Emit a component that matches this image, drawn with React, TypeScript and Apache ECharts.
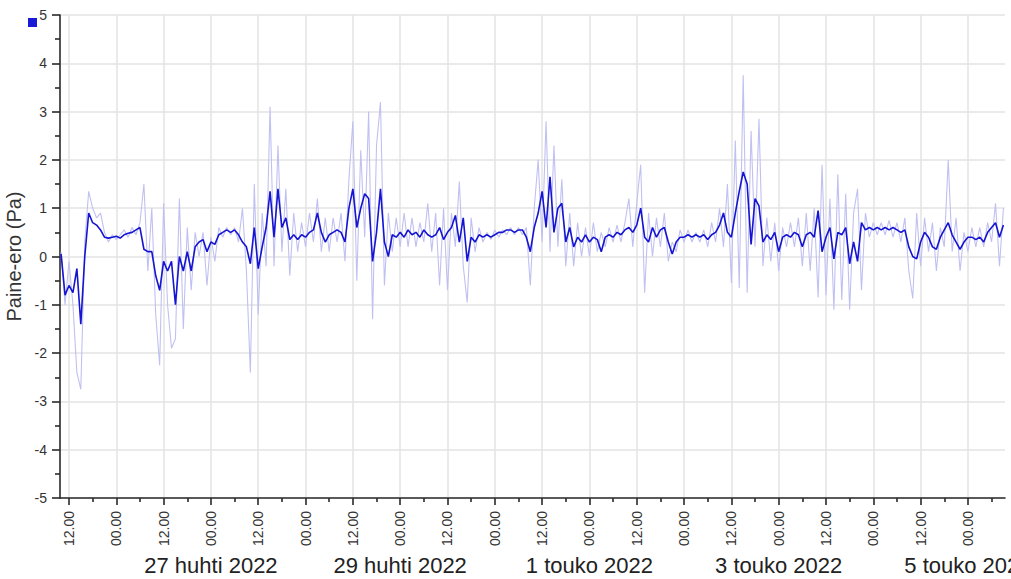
import React, { useEffect, useRef } from "react";
import * as echarts from "echarts";

// Hours are counted from 25 Apr 2022 00:00; data starts at 10:00 with hourly samples
const startHour = 10;
const axisMinHour = 9.72;
const axisMaxHour = 249.4;

const darkValues = [
  0.05, -0.8, -0.6, -0.75, -0.25, -1.4, 0.0, 0.9, 0.7, 0.65,
  0.55, 0.4, 0.38, 0.4, 0.42, 0.38, 0.45, 0.48, 0.5, 0.55,
  0.6, 0.15, 0.1, 0.1, -0.4, -0.7, -0.1, -0.3, -0.1, -1.0,
  0.0, -0.3, 0.1, -0.3, 0.2, 0.3, 0.35, 0.1, 0.3, 0.25,
  0.45, 0.5, 0.55, 0.5, 0.55, 0.45, 0.3, 0.2, -0.15, 0.6,
  -0.25, 0.2, 0.6, 1.35, 0.4, 1.4, 0.6, 0.8, 0.35, 0.45,
  0.35, 0.45, 0.4, 0.5, 0.55, 0.9, 0.5, 0.3, 0.45, 0.5,
  0.55, 0.5, 0.3, 1.0, 1.4, 0.6, 1.0, 1.3, 1.2, -0.1,
  0.5, 1.4, 0.3, 0.0, 0.45, 0.4, 0.5, 0.4, 0.55, 0.45,
  0.5, 0.4, 0.55, 0.45, 0.4, 0.45, 0.6, 0.35, 0.5, 0.6,
  0.85, 0.3, 0.8, -0.1, 0.4, 0.3, 0.45, 0.4, 0.45, 0.4,
  0.45, 0.5, 0.5, 0.55, 0.55, 0.5, 0.55, 0.55, 0.4, 0.1,
  0.6, 0.9, 1.35, 0.6, 1.65, 0.5, 1.0, 1.1, 0.3, 0.6,
  0.2, 0.4, 0.3, 0.45, 0.3, 0.4, 0.35, 0.1, 0.4, 0.45,
  0.4, 0.5, 0.45, 0.55, 0.6, 0.5, 0.65, 1.0, 0.4, 0.3,
  0.6, 0.4, 0.55, 0.6, 0.3, 0.05, 0.3, 0.4, 0.4, 0.45,
  0.4, 0.45, 0.4, 0.45, 0.35, 0.45, 0.5, 0.65, 0.9, 0.5,
  0.4, 0.9, 1.35, 1.75, 1.5, 0.25, 1.2, 1.05, 0.3, 0.45,
  0.35, 0.5, 0.1, 0.4, 0.45, 0.4, 0.5, 0.45, 0.2, 0.45,
  0.5, 0.4, 0.95, 0.1, 0.4, 0.6, -0.05, 0.5, 0.45, 0.6,
  -0.15, 0.3, -0.1, 0.7, 0.55, 0.6, 0.55, 0.6, 0.55, 0.6,
  0.55, 0.6, 0.55, 0.5, 0.55, 0.2, 0.0, -0.05, 0.3, 0.5,
  0.4, 0.2, 0.15, 0.4, 0.55, 0.7, 0.45, 0.3, 0.15, 0.3,
  0.4, 0.4, 0.35, 0.4, 0.3, 0.5, 0.6, 0.7, 0.4, 0.65,
];

const lightValues = [
  0.1, -1.0, -0.1, -1.0, -2.4, -2.75, 0.3, 1.35, 1.0, 0.8,
  0.9, 0.5, 0.3, 0.45, 0.35, 0.45, 0.55, 0.4, 0.6, 0.45,
  0.7, 1.5, -0.3, 1.0, -1.2, -2.25, 1.1, -1.0, -1.9, -1.7,
  1.2, -1.5, 0.6, -0.7, 0.5, 0.0, 0.5, -0.6, 0.4, -0.1,
  0.6, 0.4, 0.6, 0.45, 0.6, 0.3, 1.0, -0.3, -2.4, 1.5,
  -1.2, 0.9, -0.2, 3.1, -0.2, 2.3, 0.1, 1.4, -0.4, 0.9,
  0.1, 0.7, 0.2, 0.9, 0.3, 1.2, 0.1, 0.8, 0.1, 0.8,
  0.3, 0.9, -0.1, 1.6, 2.8, -0.5, 2.2, 0.4, 3.0, -1.3,
  2.3, 3.2, -0.6, 0.9, 0.1, 0.8, 0.2, 0.9, 0.2, 0.8,
  0.2, 0.7, 0.3, 1.1, 0.1, 0.9, -0.6, 1.0, -0.7, 0.9,
  0.2, 1.55, -0.2, -0.95, 0.8, 0.1, 0.6, 0.3, 0.5, 0.35,
  0.55, 0.4, 0.55, 0.45, 0.6, 0.45, 0.6, 0.45, 0.6, -0.6,
  1.0, 2.0, 0.3, 2.8, 0.1, 2.3, 0.2, 1.6, -0.2, 0.9,
  -0.2, 0.7, 0.0, 0.6, 0.0, 0.7, 0.1, 0.5, 0.2, 0.6,
  0.3, 0.65, 0.3, 0.7, 1.2, 0.2, 1.1, 1.9, -0.75, 0.9,
  0.0, 0.8, 0.2, 0.9, -0.1, 0.3, 0.1, 0.55, 0.3, 0.55,
  0.3, 0.5, 0.3, 0.55, 0.2, 0.7, 0.3, 1.0, 0.2, 1.5,
  -0.55, 2.4, -0.65, 3.75, -0.75, 2.6, 0.2, 2.85, -0.2, 0.8,
  -0.1, 0.7, -0.3, 0.6, 0.2, 0.7, 0.2, 0.8, -0.2, 0.9,
  -0.3, 1.0, -0.85, 1.9, -0.8, 1.2, -1.1, 1.7, -0.9, 1.3,
  -1.1, 0.9, 1.4, -0.7, 0.9, 0.4, 0.7, 0.45, 0.7, 0.45,
  0.75, 0.4, 0.7, 0.3, 0.8, -0.3, -0.87, 0.9, -0.2, 0.8,
  0.1, 0.7, -0.3, 0.6, 0.2, 2.0, 0.1, 0.8, -0.3, 0.5,
  0.1, 0.6, 0.2, 0.6, 0.2, 0.7, 0.3, 1.1, -0.2, 1.0,
];

const dateLabelHours = [48, 96, 144, 192, 240];
const dateLabels = ["27 huhti 2022", "29 huhti 2022", "1 touko 2022", "3 touko 2022", "5 touko 2022"];
const yTickValues = [-5, -4, -3, -2, -1, 0, 1, 2, 3, 4, 5];

const majorTickHours: number[] = [];
for (let h = 12; h <= 240; h += 12) majorTickHours.push(h);
const minorTickHours: number[] = [];
for (let h = 18; h <= 246; h += 12) minorTickHours.push(h);

const FONT = "Liberation Sans, Arial, sans-serif";
const AXIS_COLOR = "#2a2a2a";
const GRID_COLOR = "#e3e3e3";

export default function App() {
  const ref = useRef<HTMLDivElement>(null);
  useEffect(() => {
    if (!ref.current) return;
    const chart = echarts.init(ref.current, null, { renderer: "svg" });
    const darkData = darkValues.map((v, i) => [startHour + i, v]);
    const lightData = lightValues.map((v, i) => [startHour + i, v]);
    const baseX = {
      type: "value" as const,
      min: axisMinHour,
      max: axisMaxHour,
      position: "bottom" as const,
    };
    chart.setOption({
      animation: false,
      backgroundColor: "#ffffff",
      textStyle: { fontFamily: FONT },
      legend: {
        show: true,
        left: 23,
        top: 13,
        itemWidth: 9,
        itemHeight: 9,
        icon: "rect",
        itemGap: 0,
        formatter: () => "",
        data: [{ name: "Paine-ero", itemStyle: { color: "#1a1ad6" } }],
        textStyle: { fontSize: 1 },
      },
      grid: {
        left: 60,
        right: 6,
        top: 15,
        bottom: 81,
        containLabel: false,
        outerBoundsMode: "none",
      },
      xAxis: [
        {
          ...baseX,
          axisLine: { show: true, onZero: false, lineStyle: { color: AXIS_COLOR, width: 1.6 } },
          axisTick: {
            show: true,
            length: 7,
            customValues: majorTickHours,
            lineStyle: { color: AXIS_COLOR, width: 1.6 },
          },
          axisLabel: {
            show: true,
            customValues: majorTickHours,
            rotate: 90,
            margin: 13,
            fontSize: 14,
            color: "#333333",
            fontFamily: FONT,
            formatter: (v: number) => (Math.round(v) % 24 === 0 ? "00.00" : "12.00"),
          },
          splitLine: { show: true, lineStyle: { color: GRID_COLOR, width: 1.5 } },
        },
        {
          ...baseX,
          axisLine: { show: false, onZero: false },
          axisTick: {
            show: true,
            length: 4,
            customValues: minorTickHours,
            lineStyle: { color: AXIS_COLOR, width: 1.6 },
          },
          axisLabel: { show: false },
          splitLine: { show: false },
        },
        {
          ...baseX,
          axisLine: { show: false, onZero: false },
          axisTick: { show: false },
          axisLabel: {
            show: true,
            customValues: dateLabelHours,
            margin: 56,
            fontSize: 22,
            color: "#222222",
            fontFamily: FONT,
            formatter: (v: number) => {
              const idx = dateLabelHours.indexOf(Math.round(v));
              return idx >= 0 ? dateLabels[idx] : "";
            },
          },
          splitLine: { show: false },
        },
      ],
      yAxis: {
        type: "value",
        min: -5,
        max: 5,
        interval: 1,
        name: "Paine-ero (Pa)",
        nameLocation: "middle",
        nameGap: 33,
        nameRotate: 90,
        nameTextStyle: { fontSize: 20, color: "#333333", fontFamily: FONT },
        axisLine: { show: true, onZero: false, lineStyle: { color: AXIS_COLOR, width: 1.6 } },
        axisTick: { show: true, length: 8, lineStyle: { color: AXIS_COLOR, width: 1.6 } },
        minorTick: { show: true, splitNumber: 2, length: 5, lineStyle: { color: AXIS_COLOR, width: 1.6 } },
        axisLabel: {
          show: true,
          margin: 13,
          fontSize: 14,
          color: "#333333",
          fontFamily: FONT,
          customValues: yTickValues,
          formatter: (v: number) => String(v),
        },
        splitLine: { show: true, lineStyle: { color: GRID_COLOR, width: 1.5 } },
      },
      series: [
        {
          name: "Paine-ero (raaka)",
          type: "line",
          xAxisIndex: 0,
          data: lightData,
          showSymbol: false,
          symbol: "none",
          lineStyle: { color: "#c0c0f2", width: 1.1 },
          itemStyle: { color: "#c0c0f2" },
          z: 2,
        },
        {
          name: "Paine-ero",
          type: "line",
          xAxisIndex: 0,
          data: darkData,
          showSymbol: false,
          symbol: "none",
          lineStyle: { color: "#1414d2", width: 1.6 },
          itemStyle: { color: "#1414d2" },
          z: 3,
        },
      ],
    });
    return () => chart.dispose();
  }, []);
  return (
    <div
      ref={ref}
      style={{ position: "absolute", left: 0, top: 0, width: 1011, height: 579 }}
    />
  );
}
